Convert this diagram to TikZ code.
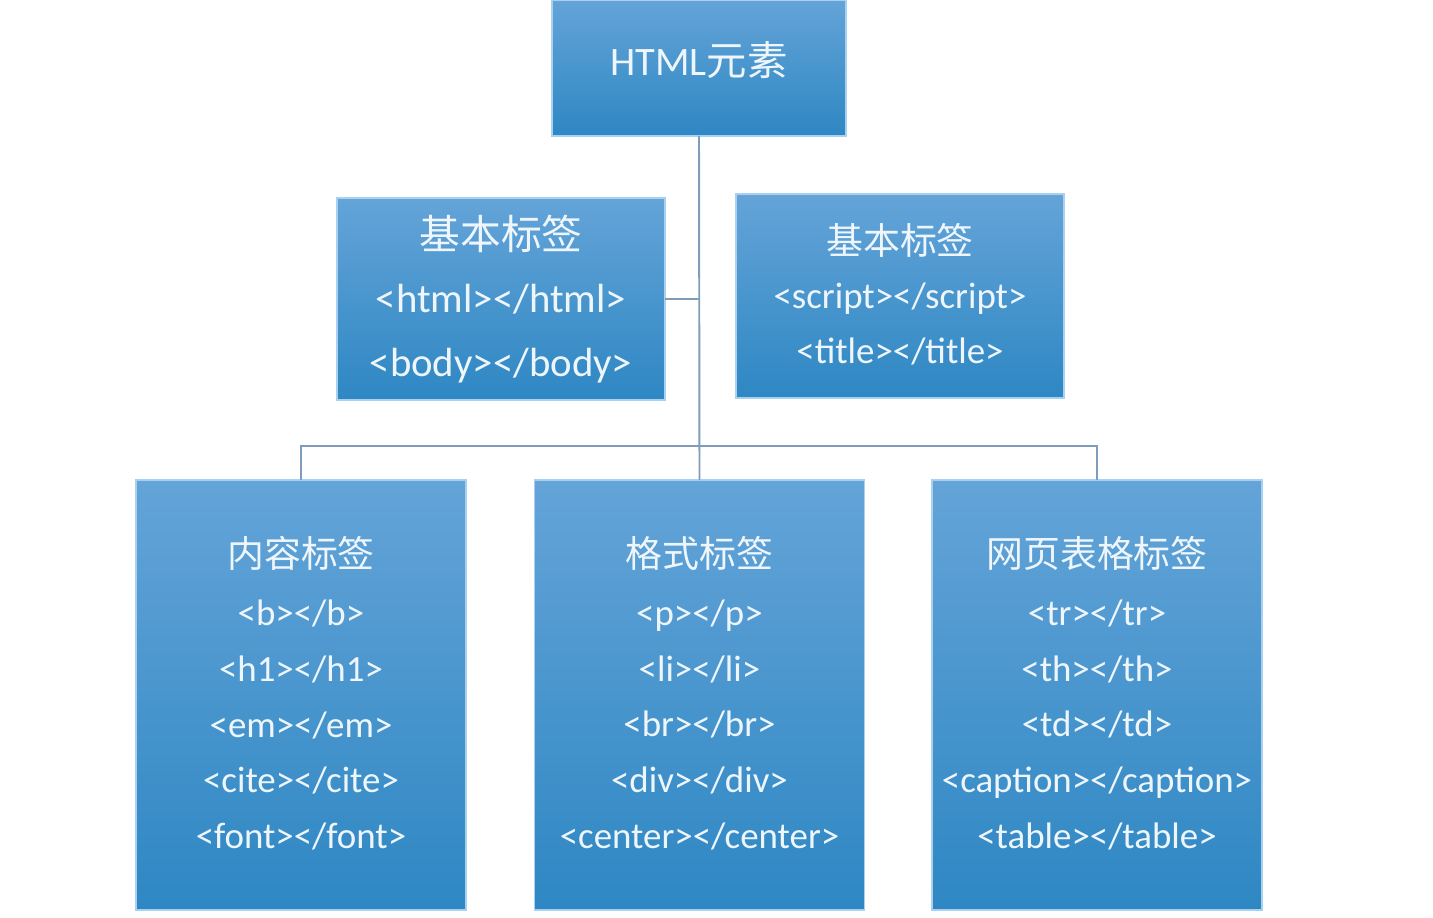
\documentclass[tikz,border=0pt]{standalone}
\usepackage{fontspec}
\setmainfont{Carlito}
\newfontfamily\cjk{Noto Sans CJK SC}
\definecolor{boxtop}{HTML}{64A4D8}
\definecolor{boxbot}{HTML}{2E87C3}
\definecolor{boxrim}{HTML}{A9D0EE}
\definecolor{linkcol}{HTML}{7F9DB9}
\definecolor{textcol}{HTML}{EEF6FC}
\tikzset{
  box/.style={rectangle, draw=boxrim, line width=0.8pt, top color=boxtop, bottom color=boxbot,
    inner sep=0pt, outer sep=0pt},
  txt/.style={text=textcol, align=center, inner sep=0pt},
  link/.style={draw=linkcol, line width=1.1pt}
}
\begin{document}
\begin{tikzpicture}[x=0.02cm, y=-0.02cm]
            \useasboundingbox (0,0) rectangle (1433,917);

            % Define nodes
            \node[box, minimum width=5.88cm, minimum height=2.72cm] (html) at (699,68) {};
            \node[box, minimum width=6.56cm, minimum height=4.04cm] (basic) at (501,299) {};
            \node[box, minimum width=6.56cm, minimum height=4.08cm] (script) at (900,296) {};
            \node[box, minimum width=6.6cm, minimum height=8.6cm] (content) at (301,695) {};
            \node[box, minimum width=6.6cm, minimum height=8.6cm] (format) at (699.5,695) {};
            \node[box, minimum width=6.6cm, minimum height=8.6cm] (table) at (1097,695) {};

            % Texts
            \node[txt, font=\fontsize{23}{28}\selectfont] at (699,60) {HTML{\cjk 元素}};
            \node[txt, font=\fontsize{23.2}{36}\selectfont] at (501,299)
              {{\cjk 基本标签}\\<html></html>\\<body></body>};
            \node[txt, font=\fontsize{21}{31}\selectfont] at (900,294)
              {{\cjk 基本标签}\\<script></script>\\<title></title>};
            \node[txt, font=\fontsize{21}{31.7}\selectfont] at (301,693)
              {{\cjk 内容标签}\\[1.5pt]<b></b>\\<h1></h1>\\<em></em>\\<cite></cite>\\<font></font>};
            \node[txt, font=\fontsize{21}{31.7}\selectfont] at (699.5,693)
              {{\cjk 格式标签}\\[1.5pt]<p></p>\\<li></li>\\<br></br>\\<div></div>\\<center></center>};
            \node[txt, font=\fontsize{21}{31.7}\selectfont] at (1097,693)
              {{\cjk 网页表格标签}\\[1.5pt]<tr></tr>\\<th></th>\\<td></td>\\<caption></caption>\\<table></table>};

            \coordinate (bus) at (699,446);

            % Draw edges
            \draw[link] (html.south) -- (format.north);
            \draw[link] (basic.east) -- (basic.east -| html.south);
            \draw[link] (content.north) |- (bus) -| (table.north);

        \end{tikzpicture}
\end{document}
